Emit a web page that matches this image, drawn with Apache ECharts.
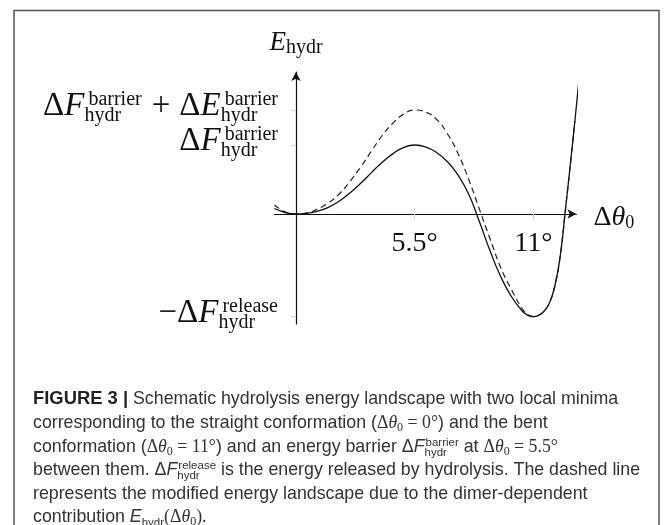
<!DOCTYPE html>
<html><head><meta charset="utf-8">
<script src="https://cdn.jsdelivr.net/npm/echarts@6/dist/echarts.min.js"></script>
<style>html,body{margin:0;padding:0;background:#fff}#c{width:672px;height:525px}</style>
</head><body><div id="c"></div>
<script>
// ---------- data ----------
const thetaSolid  = [-1.0, -0.5, 0, 0.5, 1.0, 1.5, 2.0, 2.5, 3.0, 3.5, 4.0, 4.5, 5.0, 5.5, 6.0, 6.5, 7.0, 7.5, 8.0, 8.5, 9.0, 9.5, 10.0, 10.5, 10.75, 11.0, 11.25, 11.5, 11.75, 12.0, 12.25, 12.5, 12.75, 13.0, 13.17];
const energySolid = [0.55, 0.15, 0, 0.07, 0.28, 0.67, 1.28, 2.10, 3.07, 4.14, 5.18, 6.04, 6.66, 6.9, 6.72, 6.18, 5.28, 3.94, 2.02, -0.75, -3.7, -6.3, -8.3, -9.72, -10.13, -10.27, -10.13, -9.72, -8.9, -7.2, -4.2, 0.6, 5.6, 10.8, 14.6];
const thetaDashed  = [-1.0, -0.5, 0, 0.5, 1.0, 1.5, 2.0, 2.5, 3.0, 3.5, 4.0, 4.5, 5.0, 5.5, 6.0, 6.5, 7.0, 7.5, 8.0, 8.5, 9.0, 9.5, 10.0, 10.5, 10.75, 11.0, 11.25, 11.5, 11.75, 12.0, 12.25, 12.5, 12.75, 12.93];
const energyDashed = [0.9, 0.22, 0, 0.12, 0.5, 1.1, 2.0, 3.25, 4.7, 6.3, 7.85, 9.1, 10.0, 10.4, 10.2, 9.5, 8.1, 6.1, 3.5, 0.5, -2.5, -5.4, -7.6, -9.5, -10.05, -10.27, -10.13, -9.72, -8.9, -7.2, -4.2, 0.6, 5.6, 9.3];
const xTickValues = [5.5, 11];
const xTickLabels = ['5.5°', '11°'];
const yTickValues = [10.4, 6.9, -10.27];   // ΔF+ΔE, ΔF barrier, −ΔF release

const solidData = thetaSolid.map((t, i) => [t, energySolid[i]]);
const dashedData = thetaDashed.map((t, i) => [t, energyDashed[i]]);

const R = 'Liberation Serif', S = 'Liberation Sans';
const ink = '#111';

const chart = echarts.init(document.getElementById('c'), null, {renderer: 'canvas'});
chart.setOption({
  animation: false,
  backgroundColor: '#fff',
  grid: {left: 274.4, top: 72, width: 302, height: 252},
  xAxis: {
    type: 'value', min: -1, max: 13,
    axisLine: {onZero: true, symbol: ['none', 'arrow'], symbolSize: [7, 9], lineStyle: {color: ink, width: 1.2}},
    axisTick: {show: true, customValues: xTickValues, length: 5, lineStyle: {color: '#ccc', width: 1}},
    axisLabel: {show: false},
    splitLine: {show: false}
  },
  yAxis: {
    type: 'value', min: -11, max: 14.2,
    axisLine: {onZero: true, symbol: ['none', 'arrow'], symbolSize: [7, 9], lineStyle: {color: ink, width: 1.2}},
    axisTick: {show: true, customValues: yTickValues, length: 5, lineStyle: {color: '#ccc', width: 1}},
    axisLabel: {show: false},
    splitLine: {show: false}
  },
  series: [
    {type: 'line', data: dashedData, smooth: 0.5, showSymbol: false, clip: false, z: 2,
     lineStyle: {color: '#222', width: 1.2, type: [6, 4]}},
    {type: 'line', data: solidData, smooth: 0.5, showSymbol: false, clip: false, z: 3,
     lineStyle: {color: ink, width: 1.3}}
  ]
});

// ---------- text layout helper (sub/superscripts) ----------
const mctx = document.createElement('canvas').getContext('2d');
function run(t, size, family, o) { return Object.assign({t, size, family}, o || {}); }
function fontStr(r) { return (r.style || 'normal') + ' ' + (r.weight || 'normal') + ' ' + r.size + 'px "' + r.family + '"'; }
function measure(r) { mctx.font = fontStr(r); return mctx.measureText(r.t).width; }
function layout(runs, x0, baseline, align, color) {
  const items = []; let x = 0;
  for (const r of runs) {
    if (r.stack) {
      let w = 0;
      for (const s of r.stack) { items.push({r: s, x: x + (s.dx || 0)}); w = Math.max(w, measure(s) + (s.dx || 0)); }
      x += w;
    } else {
      x += (r.gap || 0);
      items.push({r, x});
      x += measure(r) + (r.gapAfter || 0);
    }
  }
  const off = align === 'right' ? x0 - x : align === 'center' ? x0 - x / 2 : x0;
  return items.map(it => ({
    type: 'text', silent: true, z: 10,
    style: {text: it.r.t, x: off + it.x, y: baseline + (it.r.dy || 0) - 0.34 * it.r.size,
      fontSize: it.r.size, fontFamily: it.r.family, fontStyle: it.r.style || 'normal',
      fontWeight: it.r.weight || 'normal', fill: it.r.color || color, verticalAlign: 'middle'}
  }));
}

// math pieces for the axis labels
const M = 33, SC = 20;
function dF(letter) { return [run('Δ', M, R), run(letter, M, R, {style: 'italic'})]; }
function st(top) { return {stack: [run(top, SC, R, {dy: -11, dx: 4}), run('hydr', SC, R, {dy: 5})]}; }
const yLabelRuns = [
  [...dF('F'), st('barrier'), run('+', M, R, {gap: 10, gapAfter: 9}), ...dF('E'), st('barrier')],
  [...dF('F'), st('barrier')],
  [run('−', M, R), ...dF('F'), st('release')]
];

// caption
const cs = 17.8, capColor = '#333';
function sans(t, o) { return run(t, cs, S, o); }
function serif(t, o) { return run(t, cs, R, o); }
function dth() { return [serif('Δ'), serif('θ', {style: 'italic'}), run('0', 12, R, {dy: 3})]; }
function cst(top) { return {stack: [run(top, 11.5, S, {dy: -6, dx: 1}), run('hydr', 11.5, S, {dy: 4})]}; }
const captionLines = [
  [run('FIGURE 3 ', 18.4, S, {weight: 'bold', color: '#222'}), run('|', 18.4, S, {weight: 'bold', color: '#222'}), sans(' Schematic hydrolysis energy landscape with two local minima')],
  [sans('corresponding to the straight conformation ('), ...dth(), serif(' = 0°'), sans(') and the bent')],
  [sans('conformation ('), ...dth(), serif(' = 11°'), sans(') and an energy barrier '), sans('Δ'), sans('F', {style: 'italic'}), cst('barrier'), sans(' at '), ...dth(), serif(' = 5.5°')],
  [sans('between them. '), sans('Δ'), sans('F', {style: 'italic'}), cst('release'), sans(' is the energy released by hydrolysis. The dashed line')],
  [sans('represents the modified energy landscape due to the dimer-dependent')],
  [sans('contribution '), sans('E', {style: 'italic'}), run('hydr', 11.5, S, {dy: 4}), serif('('), ...dth(), serif(').')]
];
const captionBaselines = [405, 429, 453, 476, 500, 523];

function draw() {
  const g = [];
  g.push({type: 'rect', silent: true, z: 0, shape: {x: 14, y: 10.5, width: 645, height: 540},
    style: {fill: 'none', stroke: '#555', lineWidth: 1.5}});
  const origin = chart.convertToPixel({gridIndex: 0}, [0, 0]);
  yTickValues.forEach((v, i) => {
    const py = chart.convertToPixel({gridIndex: 0}, [0, v])[1];
    g.push(...layout(yLabelRuns[i], origin[0] - 18, py + 8, 'right', ink));
  });
  xTickValues.forEach((v, i) => {
    const px = chart.convertToPixel({gridIndex: 0}, [v, 0])[0];
    g.push(...layout([run(xTickLabels[i], 28, R)], px, origin[1] + 39, 'center', ink));
  });
  const end = chart.convertToPixel({gridIndex: 0}, [13, 0]);
  g.push(...layout([run('Δ', 28, R), run('θ', 28, R, {style: 'italic'}), run('0', 18, R, {dy: 2})], end[0] + 17, end[1] + 13, 'left', ink));
  g.push(...layout([run('E', 27, R, {style: 'italic'}), run('hydr', 20, R, {dy: 3})], origin[0], 52, 'center', ink));
  captionLines.forEach((ln, i) => g.push(...layout(ln, 33, captionBaselines[i], 'left', capColor)));
  chart.setOption({graphic: {elements: g}});
}
draw();
</script></body></html>
